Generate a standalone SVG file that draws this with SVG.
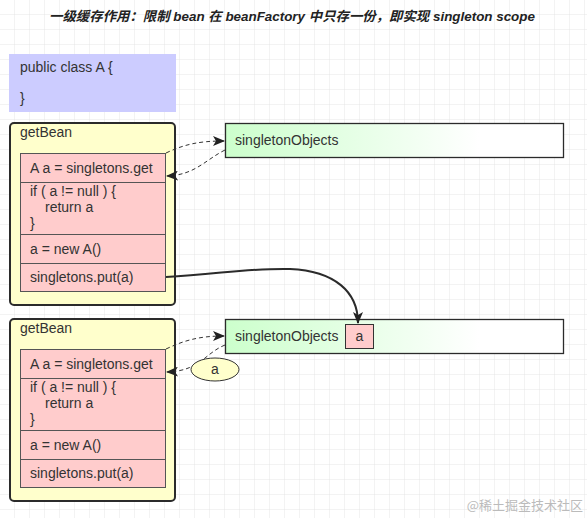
<svg xmlns="http://www.w3.org/2000/svg" width="587" height="518" viewBox="0 0 587 518">
<defs>
<pattern id="grid" width="15" height="15" patternUnits="userSpaceOnUse">
<path d="M15 0V15M0 15H15" fill="none" stroke="#e6e6e6" stroke-width="1"/>
</pattern>
<linearGradient id="green" x1="0" y1="0" x2="1" y2="0">
<stop offset="0" stop-color="#ccffcc"/>
<stop offset="0.75" stop-color="#ffffff"/>
<stop offset="1" stop-color="#ffffff"/>
</linearGradient>
<marker id="arr" viewBox="0 0 12 10" refX="11" refY="5" markerWidth="12" markerHeight="10" markerUnits="userSpaceOnUse" orient="auto">
<path d="M0,0 L12,5 L0,10 L3,5 Z" fill="#222"/>
</marker>
<style>
text{font-family:"Liberation Sans",Arial,"Noto Sans CJK SC",sans-serif;font-size:14px;fill:#333}
.title{font-size:13.4px;font-weight:bold;font-style:italic;fill:#222}
.container{fill:#ffffcc;stroke:#2b2b2b;stroke-width:2}
.pink{fill:#ffcccc;stroke:#555;stroke-width:1}
.green{fill:url(#green);stroke:#2b2b2b;stroke-width:1.3}
.dash{fill:none;stroke:#333;stroke-width:1;stroke-dasharray:4,3}
.solid{fill:none;stroke:#2b2b2b;stroke-width:2}
</style>
</defs>
<rect width="587" height="518" fill="#fff"/>
<rect width="587" height="518" fill="url(#grid)"/>

<text class="title" x="292" y="21" text-anchor="middle">一级缓存作用：限制 bean 在 beanFactory 中只存一份，即实现 singleton scope</text>

<g id="classA">
<rect x="9" y="54" width="167" height="58" fill="#ccccff"/>
<text x="20" y="72">public class A {</text>
<text x="20" y="103">}</text>
</g>

<g id="getBean1">
<rect class="container" x="10" y="123" width="165" height="182" rx="4"/>
<text x="20" y="137">getBean</text>
<rect class="pink" x="20.5" y="153.5" width="145" height="29"/>
<rect class="pink" x="20.5" y="182.5" width="145" height="52"/>
<rect class="pink" x="20.5" y="234.5" width="145" height="29"/>
<rect class="pink" x="20.5" y="263.5" width="145" height="28"/>
<text x="30" y="173">A a = singletons.get</text>
<text x="30" y="196">if ( a != null ) {</text>
<text x="45" y="212">return a</text>
<text x="30" y="228">}</text>
<text x="30" y="254">a = new A()</text>
<text x="30" y="282">singletons.put(a)</text>
</g>

<g id="singletonObjects1">
<rect class="green" x="225.5" y="123.5" width="338" height="34"/>
<text x="235" y="145">singletonObjects</text>
</g>

<g id="getBean2">
<rect class="container" x="10" y="319" width="165" height="182" rx="4"/>
<text x="20" y="333">getBean</text>
<rect class="pink" x="20.5" y="349.5" width="145" height="29"/>
<rect class="pink" x="20.5" y="378.5" width="145" height="52"/>
<rect class="pink" x="20.5" y="430.5" width="145" height="29"/>
<rect class="pink" x="20.5" y="459.5" width="145" height="28"/>
<text x="30" y="369">A a = singletons.get</text>
<text x="30" y="392">if ( a != null ) {</text>
<text x="45" y="408">return a</text>
<text x="30" y="424">}</text>
<text x="30" y="450">a = new A()</text>
<text x="30" y="478">singletons.put(a)</text>
</g>

<g id="singletonObjects2">
<rect class="green" x="225.5" y="319.5" width="338" height="34"/>
<text x="235" y="341">singletonObjects</text>
<rect class="pink" x="345.5" y="324.5" width="28" height="24" style="stroke:#333"/>
<text x="359.5" y="341" text-anchor="middle">a</text>
</g>

<g id="connectors">
<path class="dash" d="M166,153 C185,144 200,141 224,141" marker-end="url(#arr)"/>
<path class="dash" d="M225,150 C205,160 195,175 167,176" marker-end="url(#arr)"/>
<path class="solid" d="M166,277 C220,274 250,268 290,269 C335,271 358,292 358,323" marker-end="url(#arr)"/>
<path class="dash" d="M166,349 C185,340 200,336 224,336" marker-end="url(#arr)"/>
<path class="dash" d="M225,345 C205,353 200,371 167,372" marker-end="url(#arr)"/>
</g>

<g id="labelA">
<ellipse cx="215" cy="369.5" rx="24" ry="11.5" fill="#ffffcc" stroke="#333" stroke-width="1"/>
<text x="215" y="374" text-anchor="middle">a</text>
</g>

<text x="583" y="510" text-anchor="end" style="font-family:'Noto Sans CJK SC','Liberation Serif',serif;font-size:13px;fill:#bbb">@稀土掘金技术社区</text>
</svg>
